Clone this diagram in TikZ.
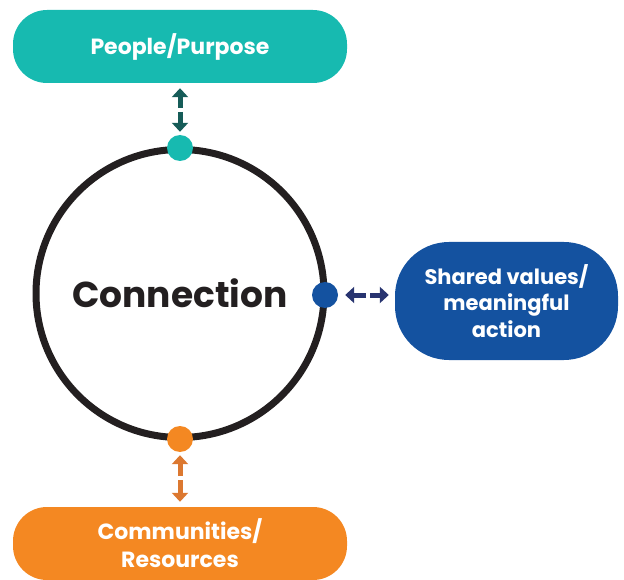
\documentclass[tikz,border=0pt]{standalone}
\usepackage{fontspec}
\setmainfont{Poppins}
\usetikzlibrary{arrows.meta}

\definecolor{tealbox}{RGB}{23,186,176}
\definecolor{tealarrow}{RGB}{22,92,88}
\definecolor{bluebox}{RGB}{20,82,160}
\definecolor{navyarrow}{RGB}{40,52,112}
\definecolor{orangebox}{RGB}{244,136,34}
\definecolor{orangearrow}{RGB}{220,120,48}
\definecolor{ringcol}{RGB}{35,31,32}

\tikzset{
  pill/.style={rounded corners=34pt, text=white, align=center,
    font=\bfseries\fontsize{22}{28}\selectfont, inner sep=0pt},
  dotmark/.style={circle, minimum size=26pt, inner sep=0pt},
  halfarrow/.style={line width=5pt,
    -{Triangle[width=16pt,length=9pt]}},
}

\begin{document}
\begin{tikzpicture}[x=1pt,y=-1pt]
  \useasboundingbox (0,0) rectangle (624,580);

  % ring
  \draw[ringcol, line width=7pt] (180,293.5) circle[radius=144];
  \node[font=\bfseries\fontsize{36}{42}\selectfont, text=ringcol] (conn) at (180,293) {Connection};

  % outer boxes
  \node[pill, fill=tealbox, minimum width=334pt, minimum height=73pt] (top) at (180,46.5) {People/Purpose};
  \node[pill, fill=orangebox, minimum width=334pt, minimum height=73pt] (bot) at (180,543.5) {Communities/\\Resources};
  \node[pill, fill=bluebox, rounded corners=54pt, minimum width=223pt, minimum height=118pt,
        font=\bfseries\fontsize{21}{26.5}\selectfont] (right) at (506.5,301) {Shared values/\\meaningful\\action};

  % contact dots on the ring
  \node[dotmark, fill=tealbox] (dtop) at (180,148) {};
  \node[dotmark, fill=bluebox] (dright) at (325,295) {};
  \node[dotmark, fill=orangebox] (dbot) at (180,439) {};

  % split two-way arrows
  \coordinate (tgap1) at (180,108);
  \coordinate (tgap2) at (180,112);
  \draw[halfarrow, tealarrow, shorten >=5pt] (tgap1) -- (top.south);
  \draw[halfarrow, tealarrow, shorten >=3pt] (tgap2) -- (dtop.north);

  \coordinate (rgap1) at (366,295);
  \coordinate (rgap2) at (370,295);
  \draw[halfarrow, navyarrow, shorten >=7pt] (rgap1) -- (dright.east);
  \draw[halfarrow, navyarrow, shorten >=6pt] (rgap2) -- (right.west |- rgap2);

  \coordinate (bgap1) at (180,476);
  \coordinate (bgap2) at (180,480);
  \draw[halfarrow, orangearrow, shorten >=3pt] (bgap1) -- (dbot.south);
  \draw[halfarrow, orangearrow, shorten >=5pt] (bgap2) -- (bot.north);
\end{tikzpicture}
\end{document}
